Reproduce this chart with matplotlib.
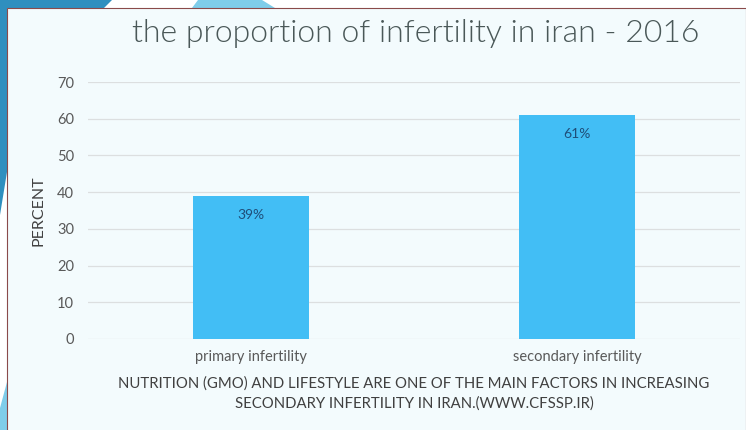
import matplotlib
matplotlib.use('Agg')
import matplotlib.pyplot as plt
from matplotlib.patches import Polygon, Rectangle

categories = ['primary infertility', 'secondary infertility']
percent = [39, 61]
bar_labels = ['39%', '61%']
y_ticks = [0, 10, 20, 30, 40, 50, 60, 70]

title = 'the proportion of infertility in iran - 2016'
caption = ('NUTRITION (GMO) AND LIFESTYLE ARE ONE OF THE MAIN FACTORS IN INCREASING\n'
           'SECONDARY INFERTILITY IN IRAN.(WWW.CFSSP.IR)')

W, H = 746, 430
plt.rcParams['font.family'] = ['Lato', 'DejaVu Sans']

fig = plt.figure(figsize=(W / 100, H / 100), dpi=100)
fig.patch.set_facecolor('white')


def px(x, y):
    # pixel coords (top-left origin) -> figure fraction
    return (x / W, 1 - y / H)


dark_blue = '#2f8fbf'
light_blue = '#7fcdea'

# decorative shapes behind the panel
fig.patches.append(Polygon([px(0, 0), px(112, 0), px(104, 8), px(7, 8), px(7, 172), px(0, 215)],
                           closed=True, transform=fig.transFigure, facecolor=dark_blue,
                           edgecolor='none', zorder=0))
fig.patches.append(Polygon([px(198, 0), px(262, 0), px(275, 8), px(192, 8)],
                           closed=True, transform=fig.transFigure, facecolor=light_blue,
                           edgecolor='none', zorder=0))
fig.patches.append(Polygon([px(0, 430), px(0, 408), px(7, 382), px(7, 430)],
                           closed=True, transform=fig.transFigure, facecolor=light_blue,
                           edgecolor='none', zorder=0))
# chart panel
fig.patches.append(Rectangle(px(7, 432), (W - 7) / W, (432 - 8) / H, transform=fig.transFigure,
                             facecolor='#f3fbfd', edgecolor='#8a4a4a', linewidth=0.8, zorder=1))

ax = fig.add_axes([88 / W, 1 - 339 / H, (740 - 88) / W, (339 - 82) / H])
ax.set_facecolor('none')
ax.set_zorder(2)

x = range(len(categories))
bars = ax.bar(x, percent, width=0.356, color='#42bef5', zorder=3)
for rect, lab in zip(bars, bar_labels):
    ax.annotate(lab, (rect.get_x() + rect.get_width() / 2, rect.get_height()),
                xytext=(0, -13.5), textcoords='offset points', ha='center', va='center',
                fontsize=10, color='#1f4e79', zorder=4)

ax.set_xlim(-0.5, 1.5)
ax.set_ylim(0, 70)
ax.set_yticks(y_ticks)
ax.set_xticks(list(x))
ax.set_xticklabels(categories)
ax.yaxis.grid(True, color='#dcdfe0', linewidth=0.9, zorder=0)
ax.set_axisbelow(True)
for s in ax.spines.values():
    s.set_visible(False)
ax.tick_params(axis='both', length=0, colors='#595959', labelsize=10.5)
ax.tick_params(axis='y', pad=10)
ax.tick_params(axis='x', pad=8)
ax.set_ylabel('PERCENT', fontsize=11.5, color='#404040', labelpad=8)

fig.text(416 / W, 1 - 33 / H, title, ha='center', va='center', fontsize=23,
         color='#4a5858', fontweight=300, zorder=3)
fig.text(414 / W, 1 - 394 / H, caption, ha='center', va='center', fontsize=10.7,
         color='#404040', linespacing=1.5, zorder=3)

fig.savefig('out.png', dpi=100)
